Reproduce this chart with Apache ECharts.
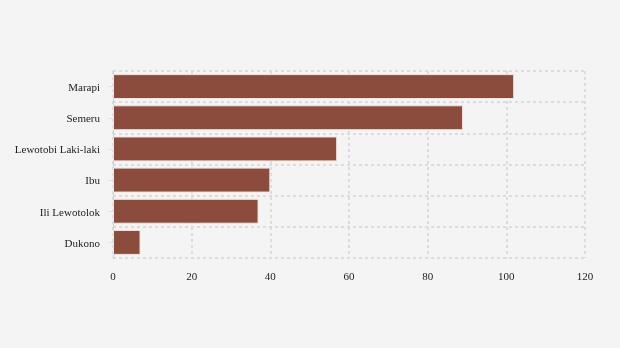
<!DOCTYPE html>
<html><head><meta charset="utf-8">
<script src="https://cdn.jsdelivr.net/npm/echarts@6/dist/echarts.min.js"></script>
<style>html,body{margin:0;padding:0;background:#f4f4f4}#c{width:620px;height:348px}</style>
</head><body><div id="c"></div>
<script>
var categories = ["Marapi", "Semeru", "Lewotobi Laki-laki", "Ibu", "Ili Lewotolok", "Dukono"];
var values = [102, 89, 57, 40, 37, 7];
var xTicks = [0, 20, 40, 60, 80, 100, 120];

var chart = echarts.init(document.getElementById('c'));
var font = "'Liberation Serif', 'Times New Roman', serif";
var grid = {color: '#dcdcdc', type: [3, 3], width: 2};
chart.setOption({
  backgroundColor: '#f4f4f4',
  animation: false,
  grid: {left: 113, right: 35, top: 71, bottom: 90, containLabel: false},
  xAxis: {
    type: 'value', min: xTicks[0], max: xTicks[xTicks.length - 1], interval: 20,
    axisLine: {show: false}, axisTick: {show: false},
    axisLabel: {color: '#222', fontFamily: font, fontSize: 11, margin: 14},
    splitLine: {show: true, lineStyle: grid}
  },
  yAxis: {
    type: 'category', data: categories, inverse: true,
    axisLine: {show: true, lineStyle: {color: '#cfcfcf', width: 1}},
    axisTick: {show: true, alignWithLabel: true, length: 5, lineStyle: {color: '#e2e2e2', width: 1}},
    axisLabel: {
      margin: 13,
      formatter: function (v) { return '{a|' + v + '}'; },
      rich: {a: {color: '#222', fontFamily: font, fontSize: 11, padding: [3, 0, 0, 0]}}
    },
    splitLine: {show: true, lineStyle: grid}
  },
  series: [{
    type: 'bar', data: values, barCategoryGap: '20%',
    itemStyle: {color: '#8b4b3d', borderColor: '#f2e6e2', borderWidth: 1}
  }]
});
</script></body></html>
